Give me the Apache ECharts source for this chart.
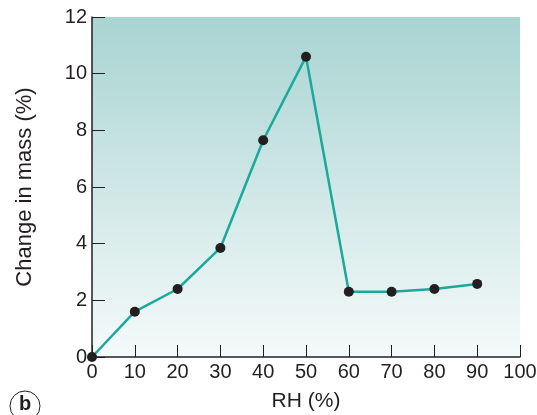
<!DOCTYPE html>
<html><head><meta charset="utf-8">
<script src="https://cdn.jsdelivr.net/npm/echarts@6/dist/echarts.min.js"></script>
<style>html,body{margin:0;padding:0;background:#fff}#c{width:537px;height:415px}</style>
</head><body><div id="c"></div>
<script>
const rh = [0, 10, 20, 30, 40, 50, 60, 70, 80, 90];
const massChange = [0, 1.6, 2.4, 3.85, 7.65, 10.6, 2.3, 2.3, 2.4, 2.58];
const xTitle = 'RH (%)';
const yTitle = 'Change in mass (%)';
const panelLabel = 'b';

const chart = echarts.init(document.getElementById('c'));
const font = 'Liberation Sans, Arial, sans-serif';
chart.setOption({
  animation: false,
  grid: {
    left: 92, right: 17, top: 17, bottom: 58,
    containLabel: false, outerBoundsMode: 'none',
    show: true, borderWidth: 0,
    backgroundColor: new echarts.graphic.LinearGradient(0, 0, 0, 1, [
      {offset: 0, color: '#a8d4d2'},
      {offset: 1, color: '#f5fafa'}
    ])
  },
  xAxis: {
    type: 'value', min: 0, max: 100, interval: 10,
    name: xTitle, nameLocation: 'middle', nameGap: 34,
    nameTextStyle: {color: '#231f20', fontSize: 21, fontFamily: font},
    axisLine: {lineStyle: {color: '#231f20', width: 1.5}},
    axisTick: {inside: true, length: 12, lineStyle: {color: '#231f20', width: 1}},
    axisLabel: {color: '#231f20', fontSize: 20, fontFamily: font, margin: 5},
    splitLine: {show: false}
  },
  yAxis: {
    type: 'value', min: 0, max: 12, interval: 2,
    name: yTitle, nameLocation: 'middle', nameGap: 56,
    nameTextStyle: {color: '#231f20', fontSize: 22, fontFamily: font},
    axisLine: {show: true, lineStyle: {color: '#231f20', width: 1.5}},
    axisTick: {show: true, inside: true, length: 13, lineStyle: {color: '#231f20', width: 1}},
    axisLabel: {color: '#231f20', fontSize: 20, fontFamily: font, margin: 5},
    splitLine: {show: false}
  },
  series: [{
    type: 'line',
    data: rh.map((x, i) => [x, massChange[i]]),
    symbol: 'circle', symbolSize: 10,
    lineStyle: {color: '#1aa99b', width: 2.5},
    itemStyle: {color: '#231f20'},
    z: 5
  }],
  graphic: [
    {type: 'circle', shape: {cx: 25, cy: 406, r: 15}, style: {fill: 'none', stroke: '#231f20', lineWidth: 1}},
    {type: 'text', x: 25, y: 404, style: {text: panelLabel, fontSize: 20, fontWeight: 'bold', fontFamily: font, fill: '#231f20', align: 'center', verticalAlign: 'middle'}}
  ]
});
</script></body></html>
